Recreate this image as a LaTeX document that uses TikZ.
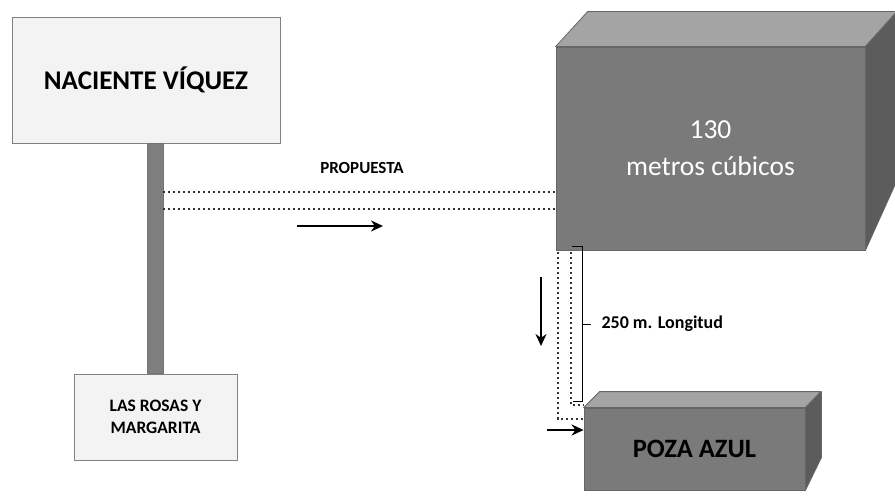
\documentclass[tikz,border=0pt]{standalone}
\usepackage{fontspec}
\setmainfont{Carlito}
\usetikzlibrary{positioning,arrows.meta}
\definecolor{caja}{HTML}{F3F3F3}
\definecolor{borde}{HTML}{808080}
\definecolor{frente}{HTML}{7A7A7A}
\definecolor{tapa}{HTML}{A4A4A4}
\definecolor{lado}{HTML}{5C5C5C}
\definecolor{poste}{HTML}{7E7E7E}

\begin{document}
\begin{tikzpicture}[x=1pt,y=-1pt,
   cajita/.style={draw=borde,fill=caja,line width=0.8pt,align=center,font=\bfseries},
   frente/.style={draw=black!60,fill=frente,line width=0.8pt,align=center,inner sep=0pt},
   cara/.style={draw=black!60,line width=0.8pt,line join=round},
   tubo/.style={line width=2.6pt,dash pattern=on 2.4pt off 2.6pt,black!80},
   flecha/.style={-{Stealth[length=12pt,width=11pt]},line width=2.3pt}]

   \useasboundingbox (0,0) rectangle (895,500);

   % cajas de la izquierda
   \node[cajita,minimum width=268pt,minimum height=126pt,
     font=\bfseries\fontsize{27}{32}\selectfont] (naciente) at (146,80) {NACIENTE VÍQUEZ};
   \node[cajita,minimum width=163pt,minimum height=86pt,
     font=\bfseries\fontsize{17.5}{22}\selectfont] (rosas) at (155.5,417) {LAS ROSAS Y\\MARGARITA};
   \filldraw[fill=poste,draw=black!55,line width=0.6pt]
     ([xshift=-8.5pt]naciente.south -| rosas.north) rectangle ([xshift=7.5pt]rosas.north);

   % tanque
   \node[frente,minimum width=309pt,minimum height=203pt,text=white,
     font=\fontsize{27.5}{37}\selectfont] (tanque) at (710.5,148.5) {130\\metros cúbicos};
   \filldraw[cara,fill=tapa] (tanque.north west) -- ++(32,-35) -- ++(309,0)
     -- (tanque.north east) -- cycle;
   \filldraw[cara,fill=lado] (tanque.north east) -- ++(32,-35) -- ++(0,168)
     -- (tanque.south east) -- cycle;

   % poza
   \node[frente,minimum width=221pt,minimum height=82pt,
     font=\bfseries\fontsize{26.5}{30}\selectfont] (poza) at (694.5,449) {\raisebox{-6pt}{POZA AZUL}};
   \filldraw[cara,fill=tapa] (poza.north west) -- ++(16,-16) -- ++(221,0)
     -- (poza.north east) -- cycle;
   \filldraw[cara,fill=lado] (poza.north east) -- ++(16,-16) -- ++(0,66)
     -- (poza.south east) -- cycle;

   % propuesta
   \coordinate (t1) at (163,192);
   \coordinate (t2) at (163,209);
   \draw[tubo] (t1) -- (t1 -| tanque.west);
   \draw[tubo] (t2) -- (t2 -| tanque.west);
   \node[font=\bfseries\fontsize{17}{20}\selectfont] (propuesta) at (362,168) {PROPUESTA};
   \coordinate (f1) at (297,226);
   \coordinate (f2) at (383,226);
   \draw[flecha] (f1) -- (f2);

   % bajada a la poza
   \coordinate (b1) at (558,252);
   \coordinate (b2) at (571,252);
   \draw[tubo] (b1) |- (poza.west |- 0,419);
   \draw[tubo] (b2) |- (poza.west |- 0,405);
   \draw[line width=0.9pt] (572,246) -- (582,246) -- (582,401) -- (573,401);
   \coordinate (m1) at (582,324);
   \draw[line width=0.9pt] (m1) -- ++(9,0);
   \node[anchor=west,font=\bfseries\fontsize{18}{20}\selectfont] (longitud) at (598,324) {250 m. Longitud};
   \coordinate (d1) at (541,277);
   \coordinate (d2) at (541,346);
   \draw[flecha] (d1) -- (d2);
   \coordinate (e1) at (547,430);
   \draw[flecha] (e1) -- (e1 -| poza.west);
\end{tikzpicture}
\end{document}
